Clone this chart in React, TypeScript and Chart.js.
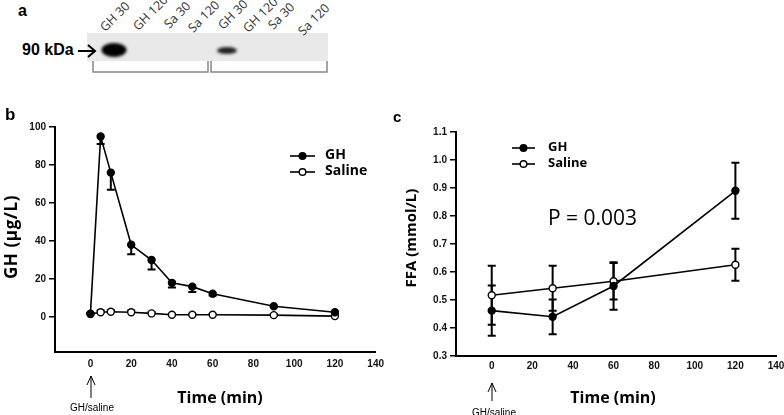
import React, { useEffect, useRef } from "react";
import { Chart, registerables } from "chart.js";
Chart.register(...registerables);

// ---- Panel b data (GH, µg/L) ----
const timeB = [0, 5, 10, 20, 30, 40, 50, 60, 90, 120];
const ghB = [1.8, 95, 76, 38, 30, 18, 16, 12.3, 5.7, 2.5];
const ghBErrLow = [0, 4, 9, 5, 5, 2.5, 2.8, 1, 0.5, 0.5];
const salineB = [1.6, 2.5, 2.8, 2.5, 1.9, 1.2, 1.2, 1.2, 1.0, 0.5];
const salineBErrHigh = [0.5, 1, 0.8, 1, 0.6, 0.4, 0.3, 0.3, 0.5, 0.5];
const yTicksB = [0, 20, 40, 60, 80, 100];
const xTicks = [0, 20, 40, 60, 80, 100, 120, 140];

// ---- Panel c data (FFA, mmol/L) ----
const timeC = [0, 30, 60, 120];
const ghC = [0.462, 0.44, 0.55, 0.89];
const ghCErr = [0.09, 0.062, 0.085, 0.1];
const salineC = [0.517, 0.542, 0.567, 0.626];
const salineCErr = [0.105, 0.08, 0.065, 0.057];
const yTicksC = [0.3, 0.4, 0.5, 0.6, 0.7, 0.8, 0.9, 1.0, 1.1];

const seriesNames = ["GH", "Saline"];
const blotLanes = ["GH 30", "GH 120", "Sa 30", "Sa 120", "GH 30", "GH 120", "Sa 30", "Sa 120"];

const errorBarPlugin = {
  id: "errbars",
  beforeDatasetsDraw(chart: any) {
    const { ctx } = chart;
    const x = chart.scales.x;
    const y = chart.scales.y;
    chart.data.datasets.forEach((ds: any) => {
      const lo = ds.errLow;
      const hi = ds.errHigh;
      ds.data.forEach((p: any, i: number) => {
        const l = lo ? lo[i] : 0;
        const h = hi ? hi[i] : 0;
        if (!l && !h) return;
        const px = x.getPixelForValue(p.x);
        const yTop = y.getPixelForValue(p.y + h);
        const yBot = y.getPixelForValue(p.y - l);
        ctx.save();
        ctx.strokeStyle = "#000";
        ctx.lineWidth = 2;
        ctx.beginPath();
        ctx.moveTo(px, yTop);
        ctx.lineTo(px, yBot);
        if (h) {
          ctx.moveTo(px - 4, yTop);
          ctx.lineTo(px + 4, yTop);
        }
        if (l) {
          ctx.moveTo(px - 4, yBot);
          ctx.lineTo(px + 4, yBot);
        }
        ctx.stroke();
        ctx.restore();
      });
    });
  },
};

const legendPlugin = {
  id: "customLegend",
  afterDraw(chart: any, _args: any, opts: any) {
    const { ctx } = chart;
    chart.data.datasets.forEach((ds: any, i: number) => {
      const y = opts.y + i * opts.gap;
      ctx.save();
      ctx.strokeStyle = "#000";
      ctx.lineWidth = 1.6;
      ctx.beginPath();
      ctx.moveTo(opts.x, y);
      ctx.lineTo(opts.x + opts.len, y);
      ctx.stroke();
      ctx.beginPath();
      ctx.arc(opts.x + opts.len / 2, y, 3.3, 0, Math.PI * 2);
      ctx.fillStyle = ds.pointBackgroundColor;
      ctx.fill();
      ctx.lineWidth = 1.4;
      ctx.stroke();
      ctx.fillStyle = "#000";
      ctx.font = opts.font;
      ctx.textBaseline = "middle";
      ctx.fillText(ds.label, opts.textX, y - 1);
      ctx.restore();
    });
  },
};

function makeDataset(label: string, xs: number[], ys: number[], filled: boolean, errLow?: number[], errHigh?: number[]) {
  return {
    label,
    data: xs.map((t, i) => ({ x: t, y: ys[i] })),
    showLine: true,
    borderColor: "#000",
    borderWidth: 1.6,
    pointRadius: 3.5,
    pointBorderWidth: 1.4,
    pointBorderColor: "#000",
    pointBackgroundColor: filled ? "#000" : "#fff",
    errLow,
    errHigh,
  } as any;
}

const tickFont = { family: "'Liberation Sans', Arial, sans-serif", size: 10, weight: "bold" as const };

function makeOptions(cfg: any) {
  return {
    animation: false,
    responsive: false,
    maintainAspectRatio: false,
    layout: { padding: { left: 0, top: cfg.top, right: cfg.right, bottom: 0 } },
    plugins: {
      legend: { display: false },
      tooltip: { enabled: false },
      customLegend: cfg.legend,
    },
    scales: {
      x: {
        type: "linear",
        min: cfg.xMin,
        max: 140,
        afterBuildTicks: (s: any) => {
          s.ticks = xTicks.map((v) => ({ value: v }));
        },
        afterFit: (s: any) => {
          s.height = cfg.xHeight;
        },
        grid: { display: true, drawOnChartArea: false, drawTicks: false, color: "#000" },
        border: { display: true, color: "#000", width: 2 },
        ticks: { font: tickFont, color: "#111", padding: cfg.xPad, maxRotation: 0, autoSkip: false },
      },
      y: {
        type: "linear",
        min: cfg.yMin,
        max: cfg.yMax,
        afterBuildTicks: (s: any) => {
          s.ticks = cfg.yTicks.map((v: number) => ({ value: v }));
        },
        afterFit: (s: any) => {
          s.width = cfg.yWidth;
        },
        grid: { display: true, drawOnChartArea: false, drawTicks: true, tickLength: 6, color: "#000", lineWidth: 1.5 },
        border: { display: true, color: "#000", width: 2 },
        ticks: {
          font: tickFont,
          color: "#111",
          padding: 3,
          autoSkip: false,
          callback: (v: number) => (cfg.decimals ? Number(v).toFixed(cfg.decimals) : String(v)),
        },
      },
    },
  } as any;
}

export default function App() {
  const refB = useRef<HTMLCanvasElement>(null);
  const refC = useRef<HTMLCanvasElement>(null);

  useEffect(() => {
    const chartB = new Chart(refB.current as HTMLCanvasElement, {
      type: "scatter",
      data: {
        datasets: [
          makeDataset(seriesNames[0], timeB, ghB, true, ghBErrLow, undefined),
          makeDataset(seriesNames[1], timeB, salineB, false, undefined, salineBErrHigh),
        ],
      },
      options: makeOptions({
        top: 37,
        right: 12,
        xMin: -17.4,
        yMin: -18.4,
        yMax: 100,
        yTicks: yTicksB,
        yWidth: 55,
        xHeight: 63,
        xPad: 6,
        decimals: 0,
        legend: { x: 290, y: 66, gap: 16, len: 25, textX: 325, font: "bold 14px 'Open Sans', sans-serif" },
      }),
      plugins: [errorBarPlugin, legendPlugin],
    } as any);

    const chartC = new Chart(refC.current as HTMLCanvasElement, {
      type: "scatter",
      data: {
        datasets: [
          makeDataset(seriesNames[0], timeC, ghC, true, ghCErr, ghCErr),
          makeDataset(seriesNames[1], timeC, salineC, false, salineCErr, salineCErr),
        ],
      },
      options: makeOptions({
        top: 42,
        right: 18,
        xMin: -17.6,
        yMin: 0.3,
        yMax: 1.1,
        yTicks: yTicksC,
        yWidth: 66,
        xHeight: 59,
        xPad: 4,
        decimals: 1,
        legend: { x: 122, y: 58, gap: 16, len: 23, textX: 158, font: "bold 13px 'Open Sans', sans-serif" },
      }),
      plugins: [errorBarPlugin, legendPlugin],
    } as any);

    return () => {
      chartB.destroy();
      chartC.destroy();
    };
  }, []);

  const bold = "'Open Sans', sans-serif";
  const lanePos = [
    [108, 35], [141, 34], [172, 32], [196, 36], [226, 33], [251, 36], [276, 33], [306, 39],
  ];

  return (
    <div style={{ position: "absolute", left: 0, top: 0, width: 784, height: 415, overflow: "hidden", background: "#fff", fontFamily: bold }}>
      {/* Panel a */}
      <div style={{ position: "absolute", left: 18, top: 2, font: "bold 16px 'Liberation Sans', Arial, sans-serif" }}>a</div>
      <div style={{ position: "absolute", left: 22, top: 41, font: "bold 16px 'Liberation Sans', Arial, sans-serif" }}>90 kDa</div>
      <svg style={{ position: "absolute", left: 0, top: 0 }} width={340} height={80}>
        <rect x={87} y={33} width={241} height={28} fill="#e9e9e9" />
        <defs>
          <filter id="bl1" x="-50%" y="-50%" width="200%" height="200%">
            <feGaussianBlur stdDeviation="1.6" />
          </filter>
        </defs>
        <ellipse cx={114} cy={50} rx={12.5} ry={7} fill="#000" filter="url(#bl1)" />
        <ellipse cx={227} cy={50.5} rx={10} ry={3.6} fill="#222" filter="url(#bl1)" />
        <line x1={78} y1={51} x2={94} y2={51} stroke="#000" strokeWidth={2} />
        <polyline points="88,45 95,51 88,57" fill="none" stroke="#000" strokeWidth={2} />
        <polyline points="93,61 93,72 208,72 208,61" fill="none" stroke="#888" strokeWidth={1.5} />
        <polyline points="211,61 211,72 327,72 327,61" fill="none" stroke="#888" strokeWidth={1.5} />
      </svg>
      {blotLanes.map((t, i) => (
        <div
          key={i}
          style={{
            position: "absolute",
            left: lanePos[i][0],
            top: lanePos[i][1] - 16,
            height: 16,
            lineHeight: "16px",
            fontSize: 12.5,
            color: "#333",
            whiteSpace: "nowrap",
            transform: "rotate(-45deg)",
            transformOrigin: "left bottom",
            fontFamily: bold,
          }}
        >
          {t}
        </div>
      ))}

      {/* Panel b */}
      <canvas ref={refB} width={390} height={325} style={{ position: "absolute", left: 0, top: 90, display: "block" }} />
      <div style={{ position: "absolute", left: 5, top: 105, font: "bold 17px 'Liberation Sans', Arial, sans-serif" }}>b</div>
      <div
        style={{
          position: "absolute",
          left: 10,
          top: 237,
          transform: "translate(-50%, -50%) rotate(-90deg)",
          whiteSpace: "nowrap",
          font: `bold 17px ${bold}`,
          letterSpacing: 0.6,
        }}
      >
        GH (µg/L)
      </div>
      <div style={{ position: "absolute", left: 220, top: 397, transform: "translate(-50%, -50%)", whiteSpace: "nowrap", font: `bold 16px ${bold}` }}>
        Time (min)
      </div>
      <svg style={{ position: "absolute", left: 80, top: 372 }} width={24} height={30}>
        <line x1={11} y1={4} x2={11} y2={26} stroke="#000" strokeWidth={1} />
        <polyline points="7,13 11,4 15,13" fill="none" stroke="#000" strokeWidth={1} />
      </svg>
      <div style={{ position: "absolute", left: 92, top: 407, transform: "translate(-50%, -50%)", whiteSpace: "nowrap", font: "10px 'Liberation Sans', Arial, sans-serif" }}>
        GH/saline
      </div>

      {/* Panel c */}
      <canvas ref={refC} width={404} height={325} style={{ position: "absolute", left: 390, top: 90, display: "block" }} />
      <div style={{ position: "absolute", left: 393, top: 108, font: "bold 15px 'Liberation Sans', Arial, sans-serif" }}>c</div>
      <div
        style={{
          position: "absolute",
          left: 410,
          top: 238,
          transform: "translate(-50%, -50%) rotate(-90deg)",
          whiteSpace: "nowrap",
          font: `bold 15px ${bold}`,
        }}
      >
        FFA (mmol/L)
      </div>
      <div style={{ position: "absolute", left: 548, top: 217, transform: "translate(0, -50%)", whiteSpace: "nowrap", font: `21px ${bold}`, color: "#000" }}>
        P = 0.003
      </div>
      <div style={{ position: "absolute", left: 613, top: 397, transform: "translate(-50%, -50%)", whiteSpace: "nowrap", font: `bold 16px ${bold}` }}>
        Time (min)
      </div>
      <svg style={{ position: "absolute", left: 481, top: 379 }} width={24} height={30}>
        <line x1={11} y1={4} x2={11} y2={22} stroke="#000" strokeWidth={1} />
        <polyline points="7,13 11,4 15,13" fill="none" stroke="#000" strokeWidth={1} />
      </svg>
      <div style={{ position: "absolute", left: 494, top: 412, transform: "translate(-50%, -50%)", whiteSpace: "nowrap", font: "10px 'Liberation Sans', Arial, sans-serif" }}>
        GH/saline
      </div>
    </div>
  );
}
